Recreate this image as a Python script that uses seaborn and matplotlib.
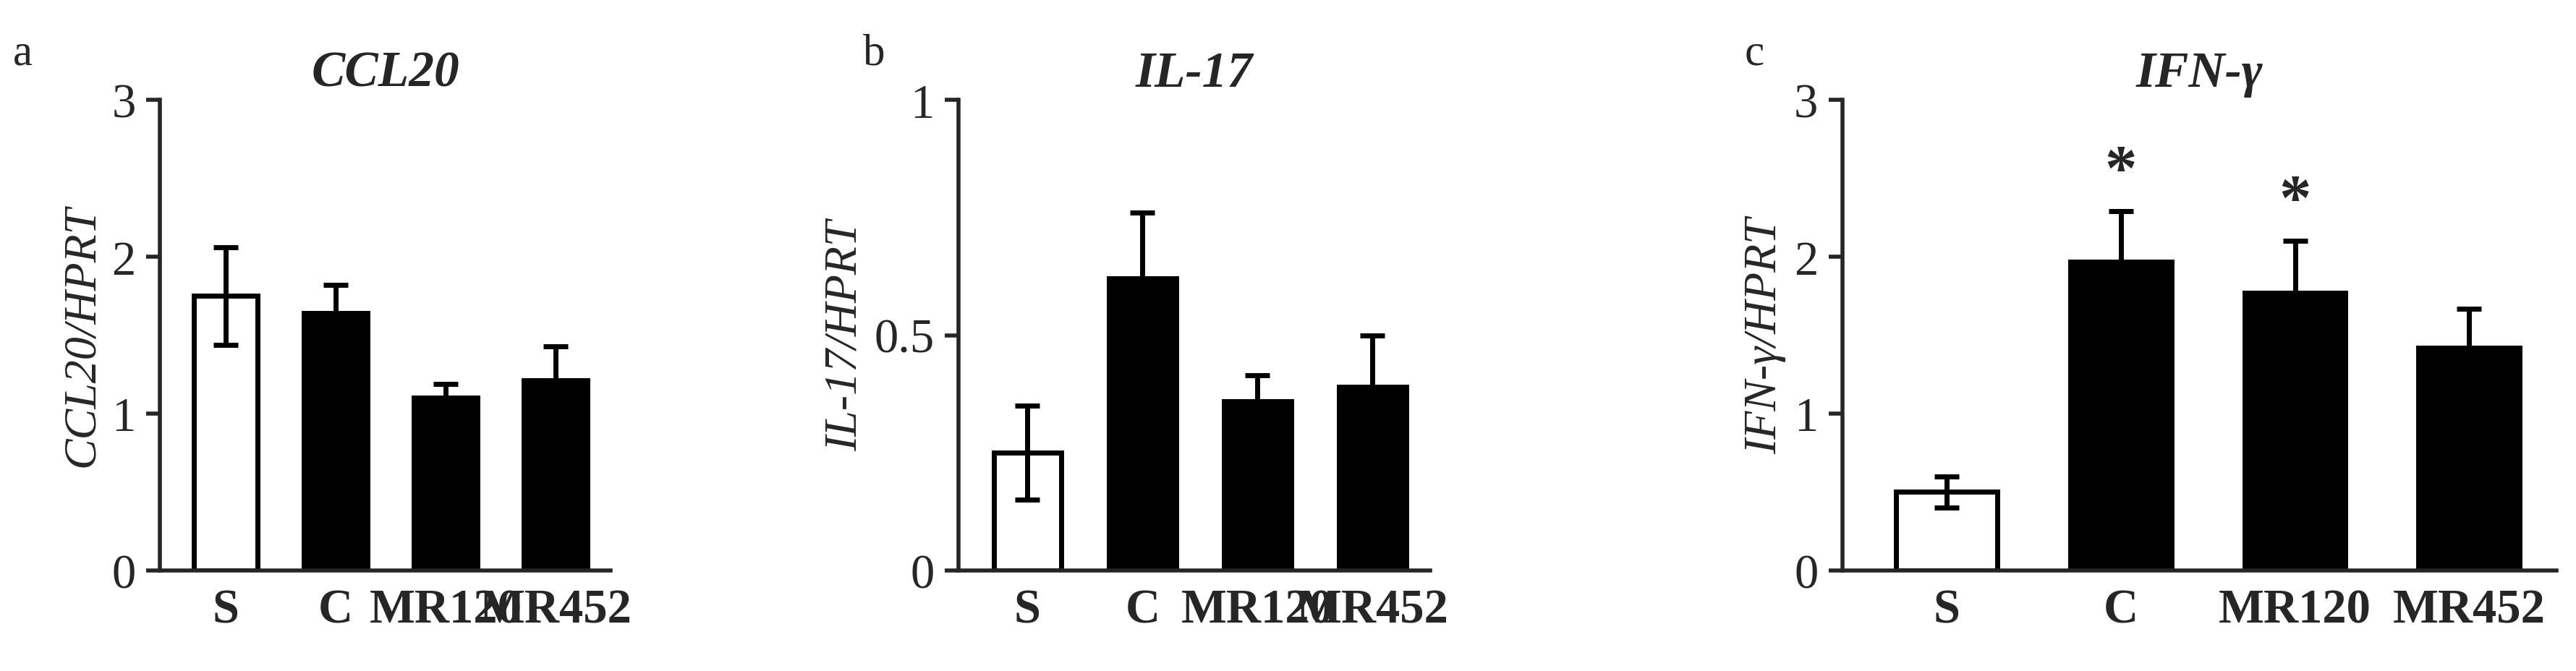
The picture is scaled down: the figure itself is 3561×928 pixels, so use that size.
import matplotlib
matplotlib.use("Agg")
import matplotlib.pyplot as plt
import seaborn as sns
import pandas as pd

groups = ["S", "C", "MR120", "MR452"]
ccl20 = [1.75, 1.64, 1.10, 1.21]
ccl20_err = [0.31, 0.18, 0.09, 0.22]
il17 = [0.25, 0.62, 0.36, 0.39]
il17_err = [0.10, 0.14, 0.055, 0.11]
ifng = [0.50, 1.97, 1.77, 1.42]
ifng_err = [0.10, 0.32, 0.33, 0.25]
stars_c = [False, True, True, False]

sns.set_style("ticks")
plt.rcParams['font.family'] = ['Liberation Serif', 'DejaVu Serif']

fig = plt.figure(figsize=(35.62, 9.29), dpi=100)
specs = [
    ([0.062, 0.15, 0.175, 0.70], ccl20, ccl20_err, 3, [0, 1, 2, 3], "CCL20", "CCL20/HPRT", "a", None),
    ([0.372, 0.15, 0.183, 0.70], il17, il17_err, 1, [0, 0.5, 1], "IL-17", "IL-17/HPRT", "b", None),
    ([0.715, 0.15, 0.277, 0.70], ifng, ifng_err, 3, [0, 1, 2, 3], "IFN-γ", "IFN-γ/HPRT", "c", stars_c),
]
letter_x = [0.005, 0.335, 0.677]
for k, (rect, vals, errs, ymax, ticks, title, ylab, letter, stars) in enumerate(specs):
    ax = fig.add_axes(rect)
    df = pd.DataFrame({"g": groups, "v": vals})
    sns.barplot(data=df, x="g", y="v", hue="g", palette=["white", "black", "black", "black"],
                edgecolor="black", linewidth=5, width=0.58, legend=False, ax=ax)
    for i, (v, e) in enumerate(zip(vals, errs)):
        ax.errorbar(i, v, yerr=e, color="black", capsize=12, capthick=5, elinewidth=5)
        if stars and stars[i]:
            ax.text(i, v + e + 0.02 * ymax, "*", ha="center", va="bottom", fontsize=64, fontweight="bold")
    ax.set_ylim(0, ymax)
    ax.set_xlim(-0.6, 3.5)
    ax.set_yticks(ticks)
    ax.set_yticklabels([f"{t:g}" for t in ticks])
    ax.tick_params(axis="y", labelsize=48, width=4, length=14, direction="out", pad=10)
    ax.tick_params(axis="x", length=0, labelsize=48, pad=18)
    for lab in ax.get_xticklabels():
        lab.set_fontweight("bold")
    ax.set_xlabel("")
    ax.set_ylabel(ylab, fontsize=46, style="italic", labelpad=8)
    sns.despine(ax=ax)
    ax.spines["left"].set_linewidth(4)
    ax.spines["bottom"].set_linewidth(4)
    ax.set_title(title, fontsize=50, fontweight="bold", style="italic", pad=14)
    fig.text(letter_x[k], 0.89, letter, fontsize=44, ha="left", va="bottom")

fig.savefig("out.png", dpi=100)
